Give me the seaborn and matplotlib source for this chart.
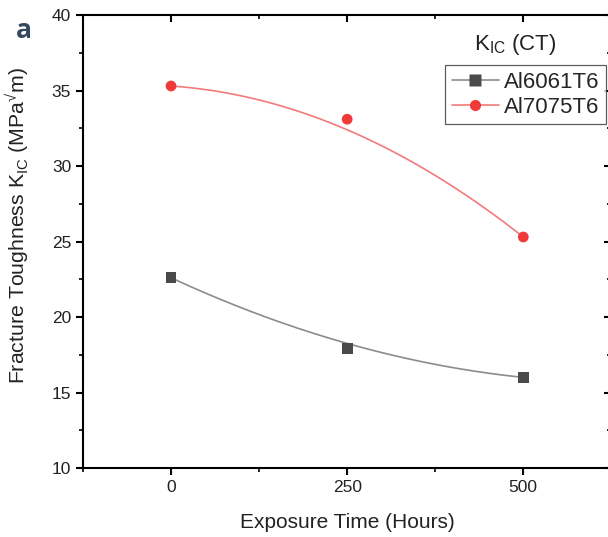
import numpy as np
import pandas as pd
import matplotlib
matplotlib.use("Agg")
import matplotlib.pyplot as plt
import seaborn as sns
from matplotlib.lines import Line2D
from matplotlib.ticker import MultipleLocator

# ---- data ----
hours = [0, 250, 500]
al6061 = [22.6, 17.9, 16.0]
al7075 = [35.3, 33.1, 25.3]
series_names = ["Al6061T6", "Al7075T6"]
x_ticks = [0, 250, 500]
y_ticks = [10, 15, 20, 25, 30, 35, 40]

sns.set_theme(style="ticks")
plt.rcParams["font.family"] = ["Liberation Sans", "DejaVu Sans"]
plt.rcParams["mathtext.default"] = "regular"

fig = plt.figure(figsize=(6.08, 5.37), dpi=100)
ax = fig.add_axes([0.1365, 0.1285, 0.869, 0.8435])

def smooth(xs, ys, n=200, k=0.25):
    # quadratic trend curve with slightly relaxed middle point
    mid = ys[1] - k * (ys[1] - (ys[0] + ys[2]) / 2)
    c = np.polyfit(xs, [ys[0], mid, ys[2]], 2)
    xx = np.linspace(xs[0], xs[-1], n)
    return xx, np.polyval(c, xx)

styles = {
    "Al6061T6": dict(vals=al6061, line="#8c8c8c", mk="#4a4a4a", marker="s"),
    "Al7075T6": dict(vals=al7075, line="#f47a7a", mk="#f03a3a", marker="o"),
}

handles = []
for name in series_names:
    st = styles[name]
    xx, yy = smooth(hours, st["vals"])
    sns.lineplot(x=xx, y=yy, ax=ax, color=st["line"], lw=1.2, legend=False)
    sns.scatterplot(x=hours, y=st["vals"], ax=ax, marker=st["marker"],
                    color=st["mk"], s=60, edgecolor="none", legend=False, zorder=5)
    handles.append(Line2D([], [], color=st["line"], lw=1.2, marker=st["marker"],
                          markersize=8, markerfacecolor=st["mk"],
                          markeredgecolor="none", label=name))

ax.set_xlim(-125, 625)
ax.set_ylim(10, 40)
ax.set_xticks(x_ticks)
ax.set_yticks(y_ticks)
ax.xaxis.set_minor_locator(MultipleLocator(125))
ax.yaxis.set_minor_locator(MultipleLocator(2.5))

for s in ax.spines.values():
    s.set_linewidth(1.5)
    s.set_color("black")

ax.tick_params(axis="both", which="major", direction="out", length=5, width=1.5,
               labelsize=12.5, color="black", labelcolor="#222222")
ax.tick_params(axis="both", which="minor", direction="out", length=3, width=1.2,
               color="black")
ax.tick_params(which="both", top=True, right=True)
# top/right ticks point inward
for t in ax.xaxis.get_major_ticks() + ax.xaxis.get_minor_ticks():
    t.tick2line.set_marker(matplotlib.lines.TICKDOWN)
for t in ax.yaxis.get_major_ticks() + ax.yaxis.get_minor_ticks():
    t.tick2line.set_marker(matplotlib.lines.TICKLEFT)

ax.set_xlabel("Exposure Time (Hours)", fontsize=15, color="#222222", labelpad=13)
ax.set_ylabel("Fracture Toughness K$_{IC}$ (MPa$^{\u221a}$m)", fontsize=15.3,
              color="#222222")
ax.yaxis.set_label_coords(-0.097, 0.536)

leg = ax.legend(handles=handles, loc="upper left", bbox_to_anchor=(0.686, 0.889),
                fontsize=16, frameon=True, fancybox=False, handlelength=2.1,
                borderpad=0.3, labelspacing=0.17, handletextpad=0.25,
                borderaxespad=0)
leg.get_frame().set_edgecolor("#333333")
leg.get_frame().set_linewidth(0.9)

ax.text(0.74, 0.934, "K$_{IC}$ (CT)", transform=ax.transAxes, fontsize=16,
        color="#222222", ha="left", va="center")

fig.text(0.026, 0.944, "a", fontsize=19, fontweight="bold", family="Open Sans",
         color="#34495e", ha="left", va="center")

fig.savefig("out.png", dpi=100)
